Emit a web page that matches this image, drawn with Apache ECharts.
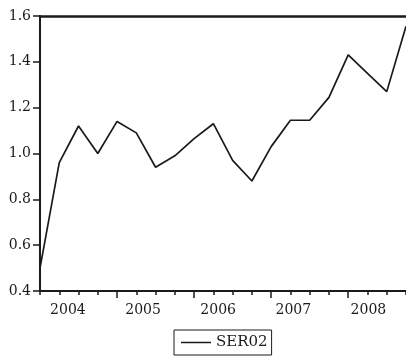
<!DOCTYPE html>
<html><head><meta charset="utf-8">
<script src="https://cdn.jsdelivr.net/npm/echarts@6/dist/echarts.min.js"></script>
<style>html,body{margin:0;padding:0;background:#fff}#c{width:406px;height:358px}</style>
</head><body><div id="c"></div>
<script>
const quarters = ['2004Q1','2004Q2','2004Q3','2004Q4','2005Q1','2005Q2','2005Q3','2005Q4','2006Q1','2006Q2','2006Q3','2006Q4','2007Q1','2007Q2','2007Q3','2007Q4','2008Q1','2008Q2','2008Q3','2008Q4'];
const years = ['2004','2005','2006','2007','2008'];
const ser02 = [0.50, 0.96, 1.12, 1.00, 1.14, 1.09, 0.94, 0.99, 1.065, 1.13, 0.97, 0.88, 1.03, 1.145, 1.145, 1.245, 1.43, 1.35, 1.27, 1.555];
const yTicks = [0.4, 0.6, 0.8, 1.0, 1.2, 1.4, 1.6];

const font = 'DejaVu Serif';
const ink = '#1a1a1a';
const chart = echarts.init(document.getElementById('c'));
const L = 40, R = -1, T = 16, B = 67;
const step = (406 - L - R) / (quarters.length - 1);
chart.setOption({
  backgroundColor: '#fff',
  animation: false,
  grid: [
    {left: L, right: R, top: T, bottom: B},
    {left: L - step / 2, right: R - step / 2, top: T, bottom: B}
  ],
  xAxis: [
    {type: 'category', gridIndex: 0, data: quarters, boundaryGap: false,
     axisLine: {lineStyle: {color: ink, width: 2}},
     axisTick: {show: true, interval: 0, length: 4, lineStyle: {color: ink, width: 1.5}},
     axisLabel: {show: false}, splitLine: {show: false}},
    {type: 'category', gridIndex: 0, data: quarters, boundaryGap: false, position: 'bottom',
     axisLine: {show: false},
     axisTick: {show: true, interval: (i) => i % 4 === 0 && i > 0, length: 7, lineStyle: {color: ink, width: 1.5}},
     axisLabel: {show: false}, splitLine: {show: false}},
    {type: 'category', gridIndex: 1, data: years, boundaryGap: true,
     axisLine: {show: false}, axisTick: {show: false},
     axisLabel: {show: true, interval: 0, color: ink, fontFamily: font, fontSize: 14, margin: 12}},
    {type: 'category', gridIndex: 0, data: quarters, boundaryGap: false, position: 'top',
     axisLine: {show: true, lineStyle: {color: ink, width: 2.5}},
     axisTick: {show: false}, axisLabel: {show: false}, splitLine: {show: false}}
  ],
  yAxis: [
    {type: 'value', gridIndex: 0, min: yTicks[0], max: yTicks[yTicks.length - 1], interval: 0.2,
     axisLine: {show: true, lineStyle: {color: ink, width: 2}},
     axisTick: {show: true, length: 7, lineStyle: {color: ink, width: 1.5}},
     axisLabel: {color: ink, fontFamily: font, fontSize: 14, margin: 9, formatter: (v) => v.toFixed(1)},
     splitLine: {show: false}},
    {type: 'value', gridIndex: 1, min: 0, max: 1, show: false}
  ],
  legend: {
    data: [{name: 'SER02', icon: 'rect'}], left: 174, top: 330, orient: 'horizontal',
    borderColor: ink, borderWidth: 1, padding: [5, 4, 5, 7],
    itemWidth: 30, itemHeight: 1.5, itemGap: 4,
    itemStyle: {color: ink, borderWidth: 0},
    textStyle: {color: ink, fontFamily: font, fontSize: 15}
  },
  series: [
    {name: 'SER02', type: 'line', xAxisIndex: 0, yAxisIndex: 0, data: ser02,
     symbol: 'none', lineStyle: {color: ink, width: 1.7}, itemStyle: {color: ink}}
  ]
});
</script></body></html>
